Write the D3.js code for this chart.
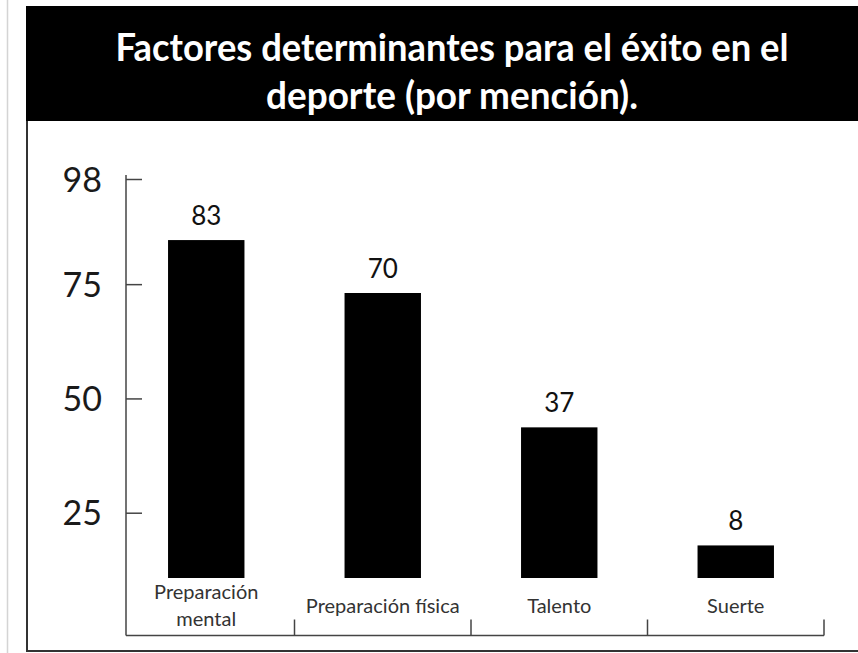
<!DOCTYPE html>
<html>
<head>
<meta charset="utf-8">
<script src="https://cdn.jsdelivr.net/npm/d3@7/dist/d3.min.js"></script>
<style>
  html, body { margin: 0; padding: 0; background: #fff; }
  svg { display: block; }
</style>
</head>
<body>
<svg id="chart" width="858" height="653"></svg>
<script>
// ---- data ----
const titleLines = ["Factores determinantes para el éxito en el", "deporte (por mención)."];
const categories = ["Preparación mental", "Preparación física", "Talento", "Suerte"];
const categoryLines = [["Preparación", "mental"], ["Preparación física"], ["Talento"], ["Suerte"]];
const values = [83, 70, 37, 8];
const yTickValues = [25, 50, 75, 98];

// ---- layout ----
const W = 858, H = 653;
const axisX = 126, axisTop = 175, baseY = 635.5;

const svg = d3.select("#chart");

// thin page edge on the far left
svg.append("line")
  .attr("x1", 7.5).attr("x2", 7.5).attr("y1", 0).attr("y2", H)
  .attr("stroke", "#d4d4d4").attr("stroke-width", 1.5);

// outer frame (left and bottom edges)
svg.append("path")
  .attr("d", `M27,6 V651 H${W}`)
  .attr("fill", "none").attr("stroke", "#333").attr("stroke-width", 2);

// title banner
svg.append("rect")
  .attr("x", 26).attr("y", 6).attr("width", W - 26).attr("height", 115)
  .attr("fill", "#000");

const titleFit = [673, 372];
svg.append("g").selectAll("text")
  .data(titleLines)
  .join("text")
  .attr("x", 452)
  .attr("y", (d, i) => 61 + i * 48)
  .attr("text-anchor", "middle")
  .attr("fill", "#fff")
  .attr("font-family", "Lato, 'Open Sans', sans-serif")
  .attr("font-weight", 700)
  .attr("font-size", 38)
  .attr("textLength", (d, i) => titleFit[i])
  .attr("lengthAdjust", "spacingAndGlyphs")
  .text(d => d);

// ---- scales ----
const x = d3.scaleBand()
  .domain(categories)
  .range([118, 824])
  .paddingInner(0.567)
  .paddingOuter(0.2835);

// axis scale for the printed ticks
const yAxisScale = d3.scaleLinear().domain([0, 98]).range([627, 179]);
// bar scale, bars rise from the floor line above the category names
const yBar = d3.scaleLinear().domain([0, 98]).range([578, 179]);

// ---- y axis ----
const yAxis = d3.axisLeft(yAxisScale)
  .tickValues(yTickValues)
  .tickFormat(d3.format("d"))
  .tickSizeInner(-16)
  .tickSizeOuter(0)
  .tickPadding(24);

const gy = svg.append("g")
  .attr("transform", `translate(${axisX},0)`)
  .call(yAxis);
gy.select(".domain").remove();
gy.selectAll(".tick line").attr("stroke", "#444").attr("stroke-width", 1.5);
gy.selectAll(".tick text")
  .attr("fill", "#1a1a1a")
  .attr("font-family", "Lato, 'Open Sans', sans-serif")
  .attr("font-size", 34)
  .attr("dy", "0.36em");

svg.append("line")
  .attr("x1", axisX).attr("x2", axisX)
  .attr("y1", axisTop).attr("y2", baseY)
  .attr("stroke", "#444").attr("stroke-width", 1.5);

// ---- x axis (ticks between categories, pointing up) ----
const step = x.step();
const gapHalf = (step - x.bandwidth()) / 2;
const xEnd = x(categories[categories.length - 1]) + x.bandwidth() + gapHalf;
svg.append("line")
  .attr("x1", axisX).attr("x2", xEnd)
  .attr("y1", baseY).attr("y2", baseY)
  .attr("stroke", "#444").attr("stroke-width", 1.5);

svg.append("g").selectAll("line")
  .data(categories)
  .join("line")
  .attr("x1", d => x(d) + x.bandwidth() + gapHalf)
  .attr("x2", d => x(d) + x.bandwidth() + gapHalf)
  .attr("y1", baseY - 16).attr("y2", baseY)
  .attr("stroke", "#444").attr("stroke-width", 1.5);

// ---- bars ----
svg.append("g").selectAll("rect")
  .data(values)
  .join("rect")
  .attr("x", (d, i) => x(categories[i]))
  .attr("width", x.bandwidth())
  .attr("y", d => yBar(d))
  .attr("height", d => yBar(0) - yBar(d))
  .attr("fill", "#000");

// value labels
svg.append("g").selectAll("text")
  .data(values)
  .join("text")
  .attr("x", (d, i) => x(categories[i]) + x.bandwidth() / 2)
  .attr("y", d => yBar(d) - 15)
  .attr("text-anchor", "middle")
  .attr("fill", "#111")
  .attr("font-family", "Lato, 'Open Sans', sans-serif")
  .attr("font-size", 26)
  .text(d => d);

// category names
const catG = svg.append("g")
  .attr("font-family", "Lato, 'Open Sans', sans-serif")
  .attr("font-size", 20)
  .attr("fill", "#333")
  .attr("text-anchor", "middle");

categoryLines.forEach((lines, i) => {
  const cx = x(categories[i]) + x.bandwidth() / 2;
  const y0 = lines.length > 1 ? 599 : 613;
  lines.forEach((ln, j) => {
    catG.append("text")
      .attr("x", cx)
      .attr("y", y0 + j * 27)
      .text(ln);
  });
});
</script>
</body>
</html>
